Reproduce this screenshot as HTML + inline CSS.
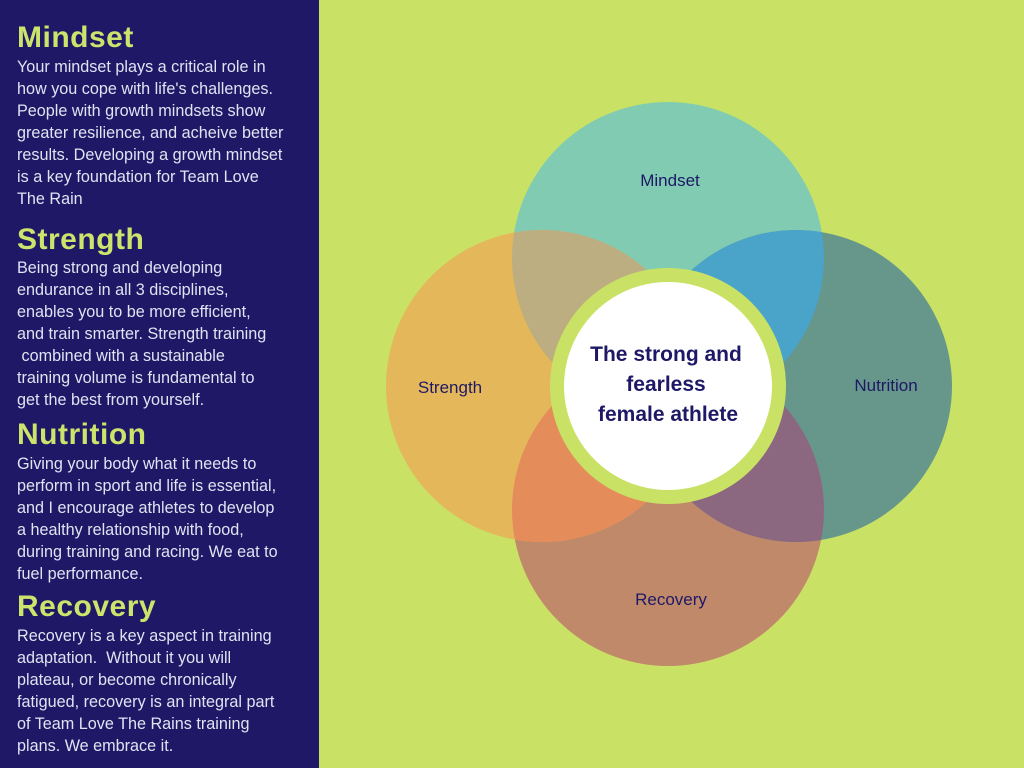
<!DOCTYPE html>
<html><head><meta charset="utf-8"><style>
body{margin:0;width:1024px;height:768px;overflow:hidden;background:#c9e265;font-family:"Liberation Sans",sans-serif}
#l{position:absolute;left:0;top:0;width:319px;height:768px;background:#1e1866}
.h{position:absolute;left:17px;color:#cde36c;font-weight:bold;font-size:30px;line-height:32px;letter-spacing:0.5px}
.p{position:absolute;left:17px;color:#e2e2f2;font-size:16.2px;line-height:22px;white-space:nowrap}
</style></head><body>
<div id="l">
<div class="h" style="top:22px">Mindset</div>
<div class="p" style="top:56px">Your mindset plays a critical role in<br>how you cope with life's challenges.<br>People with growth mindsets show<br>greater resilience, and acheive better<br>results. Developing a growth mindset<br>is a key foundation for Team Love<br>The Rain</div>
<div class="h" style="top:224px">Strength</div>
<div class="p" style="top:257px">Being strong and developing<br>endurance in all 3 disciplines,<br>enables you to be more efficient,<br>and train smarter. Strength training<br>&nbsp;combined with a sustainable<br>training volume is fundamental to<br>get the best from yourself.</div>
<div class="h" style="top:419px">Nutrition</div>
<div class="p" style="top:453px">Giving your body what it needs to<br>perform in sport and life is essential,<br>and I encourage athletes to develop<br>a healthy relationship with food,<br>during training and racing. We eat to<br>fuel performance.</div>
<div class="h" style="top:591px">Recovery</div>
<div class="p" style="top:625px">Recovery is a key aspect in training<br>adaptation. &nbsp;Without it you will<br>plateau, or become chronically<br>fatigued, recovery is an integral part<br>of Team Love The Rains training<br>plans. We embrace it.</div>
</div>
<svg width="1024" height="768" style="position:absolute;left:0;top:0">
<defs>
<clipPath id="cm"><circle cx="668" cy="258" r="156"/></clipPath>
<clipPath id="cr"><circle cx="668" cy="510" r="156"/></clipPath>
</defs>
<circle cx="668" cy="258" r="156" fill="#80cbb2"/>
<circle cx="668" cy="510" r="156" fill="#c08a6a"/>
<circle cx="542" cy="386" r="156" fill="#e4b85a"/>
<circle cx="796" cy="386" r="156" fill="#66978a"/>
<circle cx="542" cy="386" r="156" fill="#bcae80" clip-path="url(#cm)"/>
<circle cx="796" cy="386" r="156" fill="#4aa3c8" clip-path="url(#cm)"/>
<circle cx="542" cy="386" r="156" fill="#e48c5a" clip-path="url(#cr)"/>
<circle cx="796" cy="386" r="156" fill="#8c6880" clip-path="url(#cr)"/>
<circle cx="668" cy="386" r="118" fill="#c9e265"/>
<circle cx="668" cy="386" r="104" fill="#fff"/>
<g font-family="Liberation Sans,sans-serif" font-size="17" fill="#1e1866" text-anchor="middle">
<text x="670" y="186">Mindset</text>
<text x="450" y="393">Strength</text>
<text x="886" y="391">Nutrition</text>
<text x="671" y="605">Recovery</text>
</g>
<g font-family="Liberation Sans,sans-serif" font-size="21" font-weight="bold" fill="#1e1866" text-anchor="middle">
<text x="666" y="361">The strong and</text>
<text x="666" y="391">fearless</text>
<text x="668" y="421">female athlete</text>
</g>
</svg>
</body></html>
